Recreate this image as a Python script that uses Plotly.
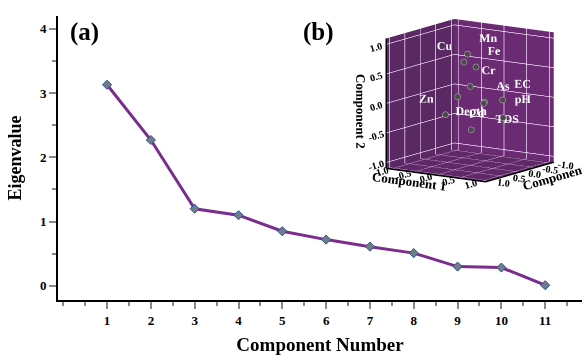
import plotly.graph_objects as go

# Scree plot data (a)
components = [1, 2, 3, 4, 5, 6, 7, 8, 9, 10, 11]
eigenvalues = [3.13, 2.27, 1.20, 1.10, 0.85, 0.72, 0.61, 0.51, 0.30, 0.285, 0.01]

# Component loadings (b)
variables = ["Mn", "Cu", "Fe", "Cr", "Cd", "As", "TDS", "EC", "pH", "Zn", "Depth"]
comp1 = [0.01, 0.00, 0.13, 0.07, -0.07, 0.18, 0.20, 0.65, 0.66, -0.27, 0.16]
comp2 = [0.80, 0.68, 0.58, 0.26, 0.10, -0.04, -0.05, 0.06, -0.24, -0.21, -0.45]
comp3 = [0.10, 0.20, 0.00, 0.10, 0.30, -0.20, -0.15, -0.10, -0.10, 0.40, 0.20]
label_pos = ["top right", "top left", "top right", "top right", "bottom right",
             "top right", "bottom right", "top right", "top right", "top left", "top center"]

SERIF = "Liberation Serif"
LINE = "#7a2d8c"
WALL_L = "#5a2963"
WALL_R = "#6a2b72"
FLOOR = "#5f2867"
GRID = "rgba(235,225,240,0.7)"

fig = go.Figure()

fig.add_trace(go.Scatter(
    x=components, y=eigenvalues, mode="lines+markers",
    line=dict(color=LINE, width=3),
    marker=dict(symbol="diamond", size=7, color="#6f7d86",
                line=dict(color="#2d4f9e", width=1)),
    showlegend=False, cliponaxis=False,
))

fig.add_trace(go.Scatter3d(
    x=comp3, y=comp1, z=comp2, mode="markers+text",
    text=variables, textposition=label_pos,
    textfont=dict(family=SERIF, size=12, color="white", weight="bold"),
    marker=dict(size=3.5, color="#4a4a4a", line=dict(color="#bbbbbb", width=1)),
    showlegend=False, scene="scene",
))

tickvals3 = [-1.0, -0.5, 0.0, 0.5, 1.0]
ticktext3 = ["-1.0", "-0.5", "0.0", "0.5", "1.0"]

def ax3(title, bg):
    return dict(
        title=dict(text=title, font=dict(family=SERIF, size=13, color="black", weight="bold")),
        range=[-1.1, 1.1], tickvals=tickvals3, ticktext=ticktext3,
        tickfont=dict(family=SERIF, size=11, color="black", weight="bold"),
        showbackground=True, backgroundcolor=bg,
        gridcolor=GRID, gridwidth=1, zeroline=False,
        showline=True, linecolor="black", linewidth=3,
        showspikes=False, ticks="", ticklen=0,
    )

fig.update_layout(
    width=582, height=355,
    margin=dict(l=58, r=0, t=16, b=55),
    paper_bgcolor="white", plot_bgcolor="white",
    font=dict(family=SERIF, color="black"),
    xaxis=dict(
        range=[-0.12, 11.84], tickvals=components,
        ticktext=[str(c) for c in components],
        tickfont=dict(family=SERIF, size=13, weight="bold"),
        ticks="outside", ticklen=7, tickcolor="#888888", tickwidth=1.5,
        minor=dict(dtick=0.5, tick0=0.5, ticks="outside", ticklen=4, tickcolor="#888888"),
        showline=True, linecolor="black", linewidth=2,
        showgrid=False, zeroline=False,
        title=dict(text="Component Number", standoff=14,
                   font=dict(family=SERIF, size=19, weight="bold")),
    ),
    yaxis=dict(
        range=[-0.22, 4.2], tickvals=[0, 1, 2, 3, 4],
        tickfont=dict(family=SERIF, size=13, weight="bold"),
        ticks="outside", ticklen=7, tickcolor="#888888", tickwidth=1.5,
        minor=dict(dtick=0.5, tick0=0.5, ticks="outside", ticklen=4, tickcolor="#888888"),
        showline=True, linecolor="black", linewidth=2,
        showgrid=False, zeroline=False,
        title=dict(text="Eigenvalue", standoff=14,
                   font=dict(family=SERIF, size=18, weight="bold")),
    ),
    scene=dict(
        domain=dict(x=[0.45, 1.0], y=[0.15, 1.0]),
        xaxis=ax3("Component 3", WALL_R),
        yaxis=ax3("Component 1", WALL_L),
        zaxis=ax3("Component 2", FLOOR),
        aspectmode="manual",
        aspectratio=dict(x=1, y=1, z=1.1),
        camera=dict(eye=dict(x=1.039, y=0.389, z=-0.090),
                    center=dict(x=0.199, y=-0.186, z=-0.294),
                    projection=dict(type="orthographic")),
        bgcolor="rgba(0,0,0,0)",
    ),
)

# panel tags
fig.add_annotation(text="<b>(a)</b>", x=(68 - 58) / 524, y=(300 - 32) / 284,
                   xref="paper", yref="paper", xanchor="left", yanchor="middle",
                   showarrow=False, font=dict(family=SERIF, size=25, color="black"))
fig.add_annotation(text="<b>(b)</b>", x=(301 - 58) / 524, y=(300 - 32) / 284,
                   xref="paper", yref="paper", xanchor="left", yanchor="middle",
                   showarrow=False, font=dict(family=SERIF, size=25, color="black"))

fig.write_html("out.html")
